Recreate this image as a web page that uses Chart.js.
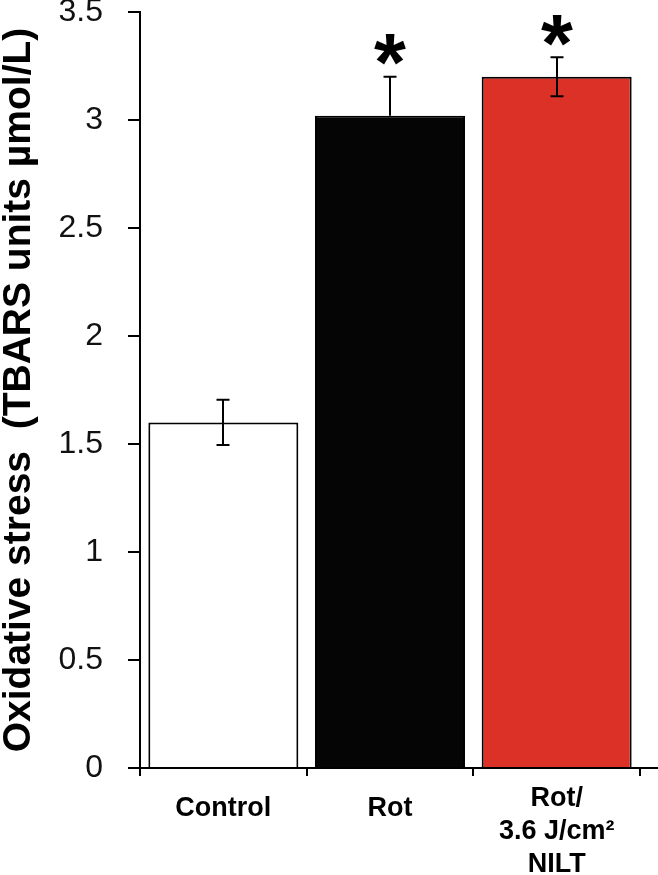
<!DOCTYPE html>
<html>
<head>
<meta charset="UTF-8">
<title>Oxidative stress</title>
<script src="https://cdn.jsdelivr.net/npm/chart.js"></script>
<style>
  body { margin: 0; background: #fff; }
  .wrap { width: 658px; height: 875px; position: relative; }
</style>
</head>
<body>
<div class="wrap"><canvas id="chart"></canvas></div>
<script>
// data
const categories = ['Control', 'Rot', ['Rot/', '3.6 J/cm\u00b2', 'NILT']];
const values = [1.6, 3.02, 3.2];
const errors = [0.105, 0.18, 0.09];
const marks = ['', '*', '*'];
const barColors = ['#ffffff', '#050505', '#dc3127'];
const yTicks = [0, 0.5, 1, 1.5, 2, 2.5, 3, 3.5];

// error bars + significance stars
const errorBars = {
  id: 'errorBars',
  afterDatasetsDraw(chart) {
    const ctx = chart.ctx;
    const y = chart.scales.y;
    const meta = chart.getDatasetMeta(0);
    ctx.save();
    ctx.strokeStyle = '#000';
    ctx.lineWidth = 2;
    meta.data.forEach((bar, i) => {
      const top = y.getPixelForValue(values[i] + errors[i]);
      const bot = y.getPixelForValue(values[i] - errors[i]);
      const x = Math.round(bar.x);
      ctx.beginPath();
      ctx.moveTo(x, top); ctx.lineTo(x, bar.y);
      ctx.moveTo(x - 6.5, top); ctx.lineTo(x + 6.5, top);
      // lower whisker disappears inside the black bar
      if (barColors[i] !== '#050505') {
        ctx.moveTo(x, bar.y); ctx.lineTo(x, bot);
        ctx.moveTo(x - 6.5, bot); ctx.lineTo(x + 6.5, bot);
      }
      ctx.stroke();
      if (marks[i]) {
        ctx.font = 'bold 82px "Liberation Sans", Arial, sans-serif';
        ctx.textAlign = 'center';
        ctx.textBaseline = 'alphabetic';
        ctx.fillStyle = '#000';
        const m = ctx.measureText(marks[i]);
        const mid = (m.actualBoundingBoxAscent - m.actualBoundingBoxDescent) / 2;
        ctx.fillText(marks[i], x, top - 27 + mid);
      }
    });
    ctx.restore();
  },
  afterDraw(chart) {
    // x axis line runs a bit past the plot on both sides
    const ctx = chart.ctx;
    const a = chart.chartArea;
    ctx.save();
    ctx.strokeStyle = '#000';
    ctx.lineWidth = 2;
    ctx.beginPath();
    ctx.moveTo(a.left - 12, a.bottom);
    ctx.lineTo(chart.width, a.bottom);
    ctx.stroke();
    ctx.restore();
  }
};

new Chart(document.getElementById('chart'), {
  type: 'bar',
  data: {
    labels: categories,
    datasets: [{
      data: values,
      backgroundColor: barColors,
      borderColor: '#000',
      borderWidth: 2,
      barPercentage: 0.9,
      categoryPercentage: 1
    }]
  },
  options: {
    responsive: true,
    maintainAspectRatio: false,
    animation: false,
    layout: { padding: { top: 12, right: 18, left: 0, bottom: 0 } },
    plugins: { legend: { display: false }, tooltip: { enabled: false } },
    scales: {
      x: {
        grid: { offset: true, drawOnChartArea: false, tickLength: 8, color: '#000', lineWidth: 2 },
        border: { color: '#000', width: 2 },
        ticks: {
          color: '#000',
          padding: 6,
          maxRotation: 0,
          font: ctx => ({
            family: '"Liberation Sans", Arial, sans-serif',
            size: 27,
            weight: 'bold',
            lineHeight: ctx.index === 2 ? 1.22 : 1.95
          })
        },
        afterFit(scale) { scale.height = 107; }
      },
      y: {
        min: 0,
        max: 3.5,
        afterBuildTicks(scale) { scale.ticks = yTicks.map(v => ({ value: v })); },
        grid: { drawOnChartArea: false, tickLength: 12, color: '#000', lineWidth: 2 },
        border: { color: '#000', width: 2 },
        ticks: {
          color: '#111',
          padding: 25,
          font: { family: '"Liberation Sans", Arial, sans-serif', size: 32 },
          callback: v => String(v)
        },
        title: {
          display: true,
          text: 'Oxidative stress  (TBARS units \u00b5mol/L)',
          color: '#000',
          padding: { top: 0, bottom: 0 },
          font: { family: '"Liberation Sans", Arial, sans-serif', size: 39, weight: 'bold', lineHeight: 1 }
        },
        afterFit(scale) {
          scale.width = 140;
          scale.paddingTop = 0;
          scale.paddingBottom = 0;
        }
      }
    }
  },
  plugins: [errorBars]
});
</script>
</body>
</html>
